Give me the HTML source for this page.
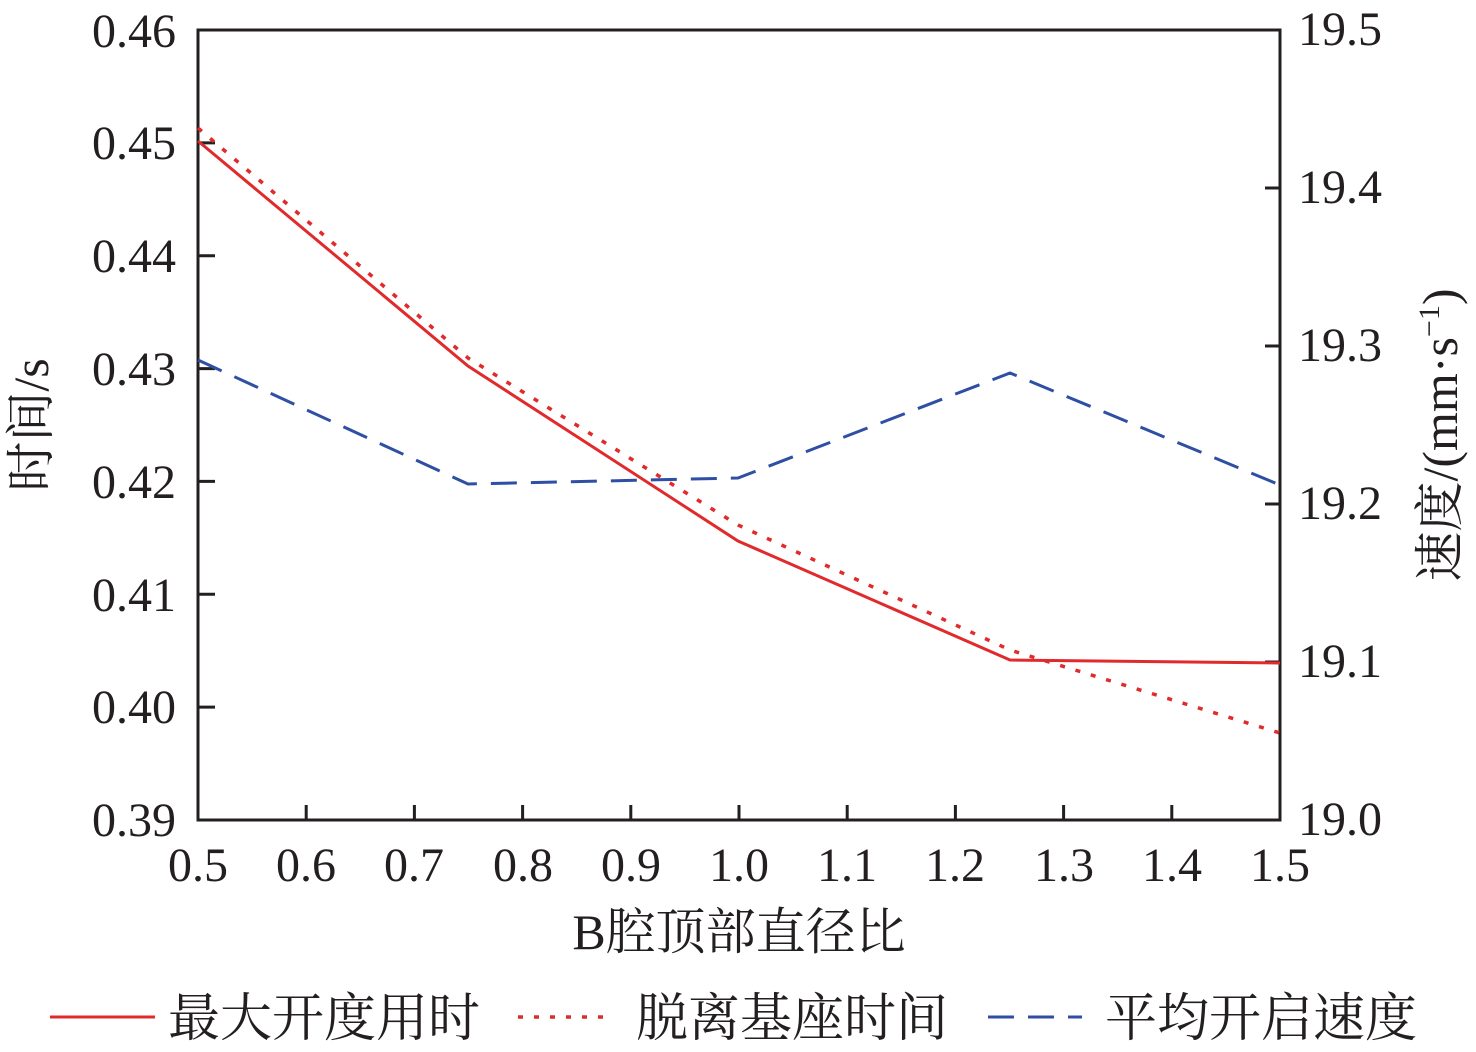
<!DOCTYPE html><html><head><style>body{margin:0;background:#fff}svg{display:block}text{font-family:"Liberation Serif","Noto Serif CJK SC",serif;fill:#231f20}</style></head><body>
<svg width="1476" height="1052" xmlns="http://www.w3.org/2000/svg">
<g stroke="#231f20" stroke-width="3" fill="none">
<rect x="198" y="30" width="1082" height="790"/>
<path d="M198,142.9h17M198,255.7h17M198,368.6h17M198,481.4h17M198,594.3h17M198,707.1h17"/>
<path d="M1280,188h-15M1280,346h-15M1280,504h-15M1280,662h-15"/>
<path d="M306.2,820v-15M414.4,820v-15M522.6,820v-15M630.8,820v-15M739,820v-15M847.2,820v-15M955.4,820v-15M1063.6,820v-15M1171.8,820v-15"/>
</g>
<polyline points="198,141 468,366 738,541 1010,660 1280,663" fill="none" stroke="#e02a2c" stroke-width="3"/>
<polyline points="198,128 468,358 738,525 1010,650 1280,733" fill="none" stroke="#e02a2c" stroke-width="3.5" stroke-dasharray="5,11"/>
<polyline points="198,360 468,484 738,478 1010,373 1280,485" fill="none" stroke="#2e4fa3" stroke-width="3" stroke-dasharray="26,14"/>
<g font-size="48" text-anchor="end">
<text x="176" y="47">0.46</text><text x="176" y="159">0.45</text><text x="176" y="272">0.44</text><text x="176" y="385">0.43</text><text x="176" y="498">0.42</text><text x="176" y="611">0.41</text><text x="176" y="723">0.40</text><text x="176" y="836">0.39</text>
</g>
<g font-size="48">
<text x="1298" y="45">19.5</text><text x="1298" y="203">19.4</text><text x="1298" y="361">19.3</text><text x="1298" y="519">19.2</text><text x="1298" y="677">19.1</text><text x="1298" y="835">19.0</text>
</g>
<g font-size="48" text-anchor="middle">
<text x="198" y="881">0.5</text><text x="306" y="881">0.6</text><text x="414" y="881">0.7</text><text x="523" y="881">0.8</text><text x="631" y="881">0.9</text><text x="739" y="881">1.0</text><text x="847" y="881">1.1</text><text x="955" y="881">1.2</text><text x="1064" y="881">1.3</text><text x="1172" y="881">1.4</text><text x="1280" y="881">1.5</text>
</g>
<g font-size="50" text-anchor="middle">
<text x="739" y="949">B腔顶部直径比</text>
<text transform="translate(48,425) rotate(-90)">时间/s</text>
<text transform="translate(1457,435) rotate(-90)">速度/(mm·s<tspan font-size="30" dy="-18">−1</tspan><tspan dy="18">)</tspan></text>
</g>
<line x1="50" y1="1017" x2="155" y2="1017" stroke="#e02a2c" stroke-width="3"/>
<line x1="518" y1="1017" x2="612" y2="1017" stroke="#e02a2c" stroke-width="3.5" stroke-dasharray="5,11"/>
<line x1="988" y1="1017" x2="1082" y2="1017" stroke="#2e4fa3" stroke-width="3" stroke-dasharray="26,14"/>
<g font-size="52"><text x="168" y="1036">最大开度用时</text><text x="636" y="1036">脱离基座时间</text><text x="1105" y="1036">平均开启速度</text></g>
</svg></body></html>
